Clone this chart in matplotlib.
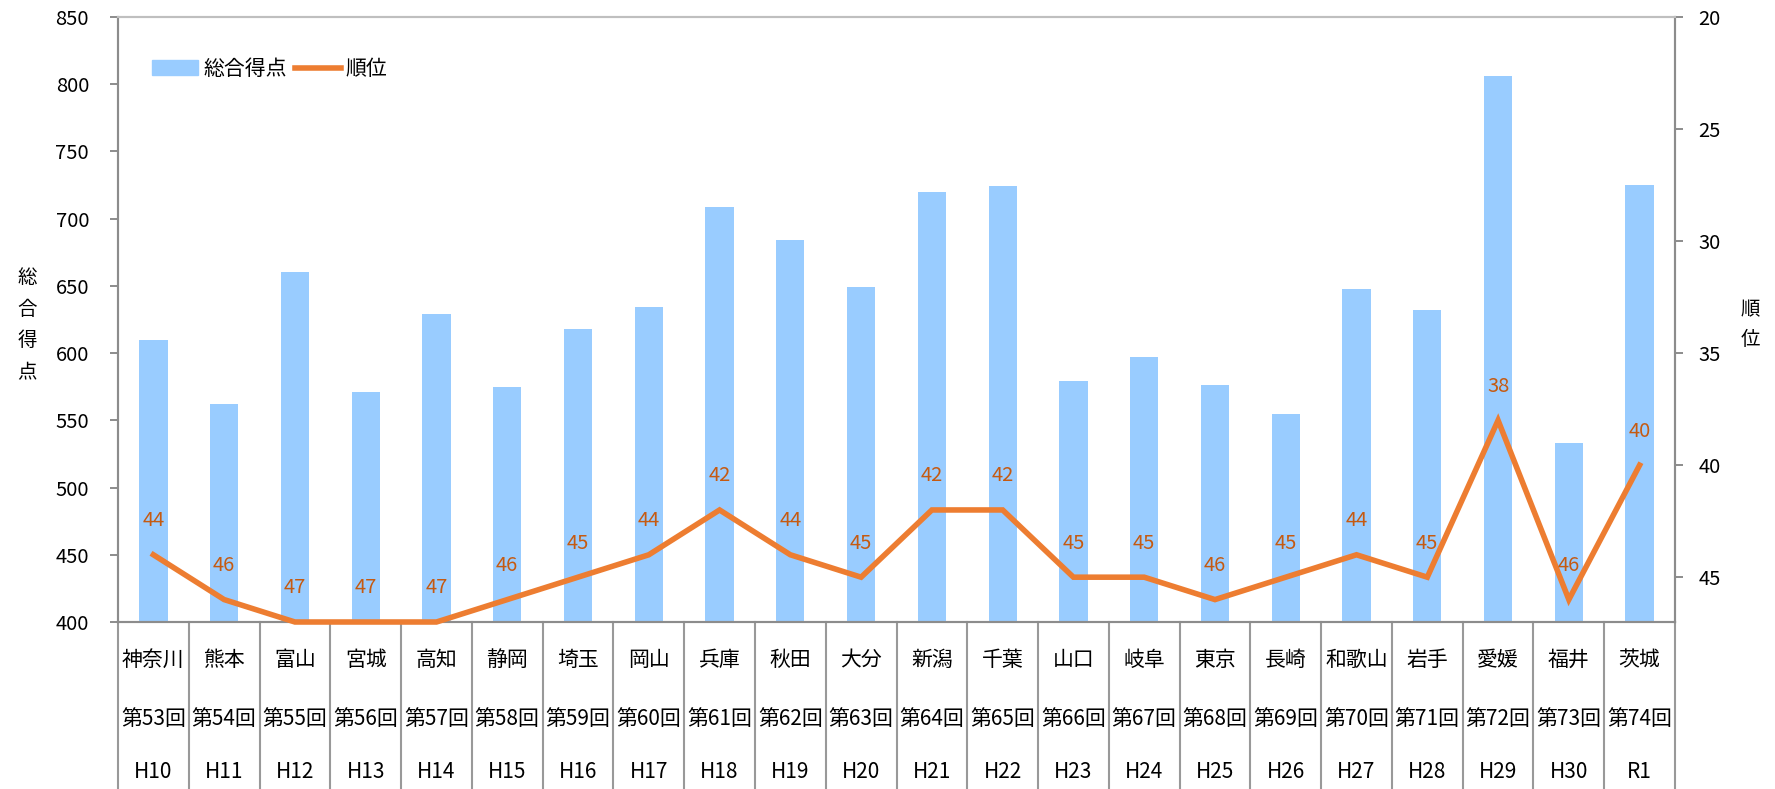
import matplotlib
matplotlib.use("Agg")
import matplotlib.pyplot as plt
from matplotlib.transforms import blended_transform_factory
from matplotlib.patches import Patch
from matplotlib.lines import Line2D

plt.rcParams['font.family'] = ['Noto Sans CJK JP', 'DejaVu Sans']

# --- données ---
prefectures = ["神奈川", "熊本", "富山", "宮城", "高知", "静岡", "埼玉", "岡山", "兵庫", "秋田", "大分",
               "新潟", "千葉", "山口", "岐阜", "東京", "長崎", "和歌山", "岩手", "愛媛", "福井", "茨城"]
kai = ["第%d回" % n for n in range(53, 75)]
nengo = ["H10", "H11", "H12", "H13", "H14", "H15", "H16", "H17", "H18", "H19", "H20",
         "H21", "H22", "H23", "H24", "H25", "H26", "H27", "H28", "H29", "H30", "R1"]
tokuten = [610, 562, 660, 571, 629, 575, 618, 634, 709, 684, 649,
           720, 724, 579, 597, 576, 555, 648, 632, 806, 533, 725]
juni = [44, 46, 47, 47, 47, 46, 45, 44, 42, 44, 45,
        42, 42, 45, 45, 46, 45, 44, 45, 38, 46, 40]

W, H = 1775, 789
fig = plt.figure(figsize=(W / 100, H / 100), dpi=100)
ax = fig.add_axes([118 / W, 1 - 622 / H, (1675 - 118) / W, (622 - 17) / H])

x = list(range(len(tokuten)))
gris = "#8c8c8c"

# barres : total des points
ax.bar(x, tokuten, width=0.4, color="#99CCFF", zorder=2)
ax.set_xlim(-0.5, len(x) - 0.5)
ax.set_ylim(400, 850)
ax.set_yticks(range(400, 851, 50))
ax.set_xticks([])
ax.tick_params(axis="y", direction="out", length=5.8, width=1.4, color=gris,
               labelsize=14.5, pad=15)

# courbe : rang (axe de droite inversé)
ax2 = ax.twinx()
ax2.plot(x, juni, color="#ED7D31", lw=4, clip_on=False, zorder=3,
         solid_joinstyle="miter")
ax2.set_ylim(47, 20)
ax2.set_yticks(range(20, 46, 5))
ax2.tick_params(axis="y", direction="out", length=5.8, width=1.4, color=gris,
                labelsize=14.5, pad=11)
for xi, r in zip(x, juni):
    ax2.annotate(str(r), (xi, r), xytext=(0, 24.5), textcoords="offset points",
                 ha="center", va="center", fontsize=14.5, color="#C55A11")

for a in (ax, ax2):
    for s in ("left", "right", "bottom"):
        a.spines[s].set_color(gris)
        a.spines[s].set_linewidth(1.5)
    a.spines["top"].set_color("#bfbfbf")
    a.spines["top"].set_linewidth(1.5)

# tableau sous le graphique
tr = blended_transform_factory(ax.transData, fig.transFigure)
y_bas = 1 - 622 / H
for i in range(len(x) + 1):
    ax.plot([i - 0.5, i - 0.5], [y_bas, 0], transform=tr, color="#999999",
            lw=1.5, clip_on=False)
rangees = [(prefectures, 660), (kai, 719), (nengo, 772)]
for textes, yp in rangees:
    for xi, t in zip(x, textes):
        ax.text(xi, 1 - yp / H, t, transform=tr, ha="center", va="center",
                fontsize=15, color="black")

# titres des axes (verticaux)
fig.text(27 / W, 1 - 325 / H, "総\n合\n得\n点", ha="center", va="center",
         fontsize=14, linespacing=1.68)
fig.text(1750 / W, 1 - 325 / H, "順\n位", ha="center", va="center",
         fontsize=14, linespacing=1.55)

# légende
handles = [Patch(color="#99CCFF"), Line2D([], [], color="#ED7D31", lw=4)]
fig.legend(handles, ["総合得点", "順位"], loc="center left",
           bbox_to_anchor=(152 / W, 1 - 69 / H), ncol=2, frameon=False,
           fontsize=15, borderpad=0, handlelength=2.2, handleheight=0.7,
           handletextpad=0.25, columnspacing=0.4, borderaxespad=0)

fig.savefig("out.png", dpi=100)
